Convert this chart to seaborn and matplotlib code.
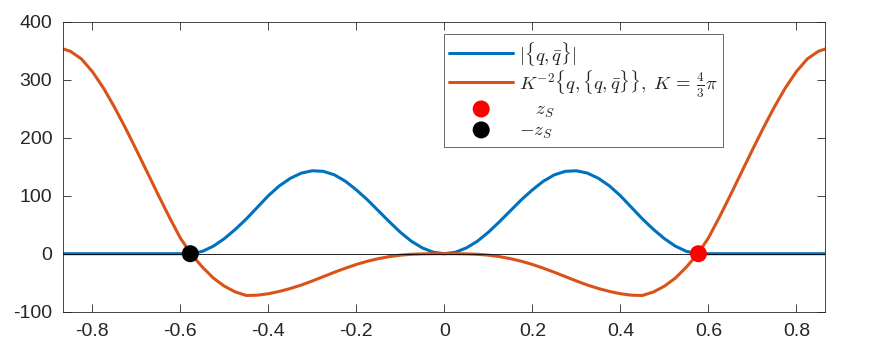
import numpy as np
import matplotlib
matplotlib.use("Agg")
import matplotlib.pyplot as plt
import seaborn as sns

# values
x = [-0.866, -0.85, -0.825, -0.8, -0.775, -0.75, -0.725, -0.7, -0.675, -0.65,
     -0.625, -0.6, -0.575, -0.55, -0.525, -0.5, -0.475, -0.45, -0.425, -0.4,
     -0.375, -0.35, -0.325, -0.3, -0.275, -0.25, -0.225, -0.2, -0.175, -0.15,
     -0.125, -0.1, -0.075, -0.05, -0.025, 0.0, 0.025, 0.05, 0.075, 0.1,
     0.125, 0.15, 0.175, 0.2, 0.225, 0.25, 0.275, 0.3, 0.325, 0.35,
     0.375, 0.4, 0.425, 0.45, 0.475, 0.5, 0.525, 0.55, 0.575, 0.6,
     0.625, 0.65, 0.675, 0.7, 0.725, 0.75, 0.775, 0.8, 0.825, 0.85, 0.866]

bracket = [0, 0, 0, 0, 0, 0, 0, 0, 0, 0,
           0, 0, 0.2, 4, 13, 26, 42, 60, 80, 100,
           117, 130, 139, 143, 142, 136, 125, 110, 93, 74,
           55, 37, 21.5, 10, 2.5, 0, 2.5, 10, 21.5, 37,
           55, 74, 93, 110, 125, 136, 142, 143, 139, 130,
           117, 100, 80, 60, 42, 26, 13, 4, 0.2, 0,
           0, 0, 0, 0, 0, 0, 0, 0, 0, 0, 0]

double_bracket = [353, 349, 336, 314, 286, 253, 217, 179, 140, 101,
                  63, 27, -1, -23, -42, -56, -66, -72, -71.5, -69,
                  -65, -60, -54, -47, -39.5, -32, -25, -18.5, -13, -8.5,
                  -5, -2.5, -1, -0.3, 0, 0, 0, -0.3, -1, -2.5,
                  -5, -8.5, -13, -18.5, -25, -32, -39.5, -47, -54, -60,
                  -65, -69, -71.5, -72, -66, -56, -42, -23, -1, 27,
                  63, 101, 140, 179, 217, 253, 286, 314, 336, 349, 353]

zs = [0.5774]
zs_neg = [-0.5774]
zs_y = [0]

x_ticks = [-0.8, -0.6, -0.4, -0.2, 0, 0.2, 0.4, 0.6, 0.8]
x_labels = ["-0.8", "-0.6", "-0.4", "-0.2", "0", "0.2", "0.4", "0.6", "0.8"]
y_ticks = [-100, 0, 100, 200, 300, 400]

sns.set_style("ticks")
plt.rcParams["font.family"] = ["Liberation Sans", "DejaVu Sans"]
plt.rcParams["mathtext.fontset"] = "cm"
plt.rcParams["axes.unicode_minus"] = False

fig = plt.figure(figsize=(8.72, 3.5), dpi=100)
ax = fig.add_axes([0.0726, 0.1094, 0.874, 0.8286])

line_kw = dict(solid_joinstyle="round", solid_capstyle="round")
sns.lineplot(x=x, y=bracket, ax=ax, color="#0072BD", lw=2.2,
             label=r"$|\{q,\bar{q}\}|$", zorder=2, **line_kw)
sns.lineplot(x=x, y=double_bracket, ax=ax, color="#D95319", lw=2.2,
             label=r"$K^{-2}\{q,\{q,\bar{q}\}\},\; K\,=\,\frac{4}{3}\pi$",
             zorder=2, **line_kw)
ax.axhline(0, color="k", lw=0.6, zorder=3)
sns.scatterplot(x=zs, y=zs_y, ax=ax, color="red", s=150, edgecolor="none",
                label=r"$\quad z_S$", zorder=4)
sns.scatterplot(x=zs_neg, y=zs_y, ax=ax, color="black", s=150, edgecolor="none",
                label=r"$-z_S$", zorder=4)

ax.set_xlim(-0.866, 0.866)
ax.set_ylim(-100, 400)
ax.set_xticks(x_ticks)
ax.set_xticklabels(x_labels)
ax.set_yticks(y_ticks)
ax.tick_params(direction="in", length=5.5, width=0.6, colors="#262626",
               labelsize=14, top=True, right=True, pad=8)
for sp in ax.spines.values():
    sp.set_visible(True)
    sp.set_color("#262626")
    sp.set_linewidth(0.6)

leg = ax.legend(loc="upper left", bbox_to_anchor=(0.4996, 0.9566),
                borderaxespad=0, fontsize=13.5, handlelength=3.4,
                handleheight=1.0, handletextpad=0.3, labelspacing=0.05,
                borderpad=0.28, frameon=True, fancybox=False, markerscale=1.0)
leg.get_frame().set_edgecolor("#262626")
leg.get_frame().set_linewidth(0.6)

fig.savefig("out.png", dpi=100, facecolor="white")
